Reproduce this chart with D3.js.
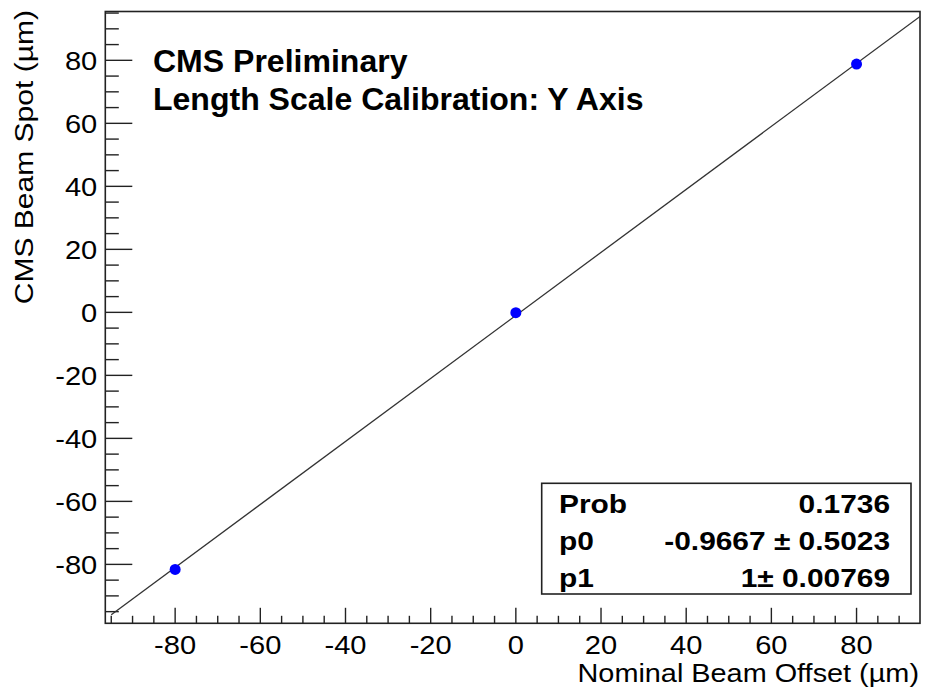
<!DOCTYPE html>
<html>
<head>
<meta charset="utf-8">
<script src="https://cdn.jsdelivr.net/npm/d3@7"></script>
<style>
  html, body { margin: 0; padding: 0; background: #fff; }
  svg { display: block; }
  text { font-family: "Liberation Sans", Arial, Helvetica, sans-serif; fill: #000; }
</style>
</head>
<body>
<svg id="chart" width="925" height="692"></svg>
<script>
// Calibration points: nominal offset vs. measured beam spot position (µm)
const nominalOffset = [-80, 0, 80];
const beamSpot = [-81.6, -0.1, 78.8];

// Axis ticks
const xTicks = [-80, -60, -40, -20, 0, 20, 40, 60, 80];
const yTicks = [-80, -60, -40, -20, 0, 20, 40, 60, 80];
const xTickLabels = ["-80", "-60", "-40", "-20", "0", "20", "40", "60", "80"];
const yTickLabels = ["-80", "-60", "-40", "-20", "0", "20", "40", "60", "80"];

// Linear fit result p0 + p1*x and its drawn range
const fitParams = [-0.9667, 1];
const fitRange = [-95, 95];

// Fit statistics panel
const statNames = ["Prob", "p0", "p1"];
const statValues = ["0.1736", "-0.9667 \u00b1 0.5023", "1\u00b1 0.00769"];

const headerLines = ["CMS Preliminary", "Length Scale Calibration: Y Axis"];
const xTitle = "Nominal Beam Offset (\u00b5m)";
const yTitle = "CMS Beam Spot (\u00b5m)";

const svg = d3.select("#chart");
const frame = { left: 105.3, right: 920, top: 11.5, bottom: 623.3 };

const x = d3.scaleLinear().domain([-96.4, 94.9]).range([frame.left, frame.right]);
const y = d3.scaleLinear().domain([-98.7, 95.5]).range([frame.bottom, frame.top]);

const axisColor = "#222";

// Text is drawn with slightly widened glyphs (Helvetica-style wide rendering)
function place(sel, px, py, sx, rot) {
  sel.attr("x", 0).attr("y", 0)
    .attr("transform", (d, i) => {
      const tx = typeof px === "function" ? px(d, i) : px;
      const ty = typeof py === "function" ? py(d, i) : py;
      return `translate(${tx},${ty})` + (rot ? ` rotate(${rot})` : "") + ` scale(${sx},1)`;
    });
  return sel;
}

// Minor ticks every 5 units
const xMinor = d3.range(-95, 95, 5).filter(v => v % 20 !== 0);
const yMinor = d3.range(-95, 96, 5).filter(v => v % 20 !== 0);

// Bottom axis (ticks point inward)
const gx = svg.append("g").attr("transform", `translate(0,${frame.bottom})`);
gx.selectAll("line.major").data(xTicks).join("line")
  .attr("x1", d => x(d)).attr("x2", d => x(d))
  .attr("y1", 0).attr("y2", -15.5)
  .attr("stroke", axisColor).attr("stroke-width", 1.4);
gx.selectAll("line.minor").data(xMinor).join("line")
  .attr("x1", d => x(d)).attr("x2", d => x(d))
  .attr("y1", 0).attr("y2", -7.5)
  .attr("stroke", axisColor).attr("stroke-width", 1.4);
place(gx.selectAll("text").data(xTicks).join("text")
  .attr("text-anchor", "middle")
  .attr("font-size", 26)
  .text((d, i) => xTickLabels[i]), d => x(d), 31, 1.12);

// Left axis (ticks point inward)
const gy = svg.append("g").attr("transform", `translate(${frame.left},0)`);
gy.selectAll("line.major").data(yTicks).join("line")
  .attr("y1", d => y(d)).attr("y2", d => y(d))
  .attr("x1", 0).attr("x2", 27)
  .attr("stroke", axisColor).attr("stroke-width", 1.4);
gy.selectAll("line.minor").data(yMinor).join("line")
  .attr("y1", d => y(d)).attr("y2", d => y(d))
  .attr("x1", 0).attr("x2", 13.5)
  .attr("stroke", axisColor).attr("stroke-width", 1.4);
place(gy.selectAll("text").data(yTicks).join("text")
  .attr("text-anchor", "end")
  .attr("font-size", 26)
  .text((d, i) => yTickLabels[i]), -8, d => y(d) + 10, 1.12);

// Plot frame
svg.append("rect")
  .attr("x", frame.left).attr("y", frame.top)
  .attr("width", frame.right - frame.left).attr("height", frame.bottom - frame.top)
  .attr("fill", "none").attr("stroke", axisColor).attr("stroke-width", 1.6);

// Fitted line
svg.append("clipPath").attr("id", "plotclip").append("rect")
  .attr("x", frame.left).attr("y", frame.top)
  .attr("width", frame.right - frame.left).attr("height", frame.bottom - frame.top);
const fitLine = d3.line().x(d => x(d)).y(d => y(fitParams[0] + fitParams[1] * d));
svg.append("path")
  .attr("clip-path", "url(#plotclip)")
  .attr("d", fitLine(fitRange))
  .attr("fill", "none").attr("stroke", "#333").attr("stroke-width", 1.3);

// Data points
svg.selectAll("circle.pt").data(nominalOffset).join("circle")
  .attr("class", "pt")
  .attr("cx", d => x(d))
  .attr("cy", (d, i) => y(beamSpot[i]))
  .attr("r", 5.5)
  .attr("fill", "#0000ff");

// Header text
place(svg.selectAll("text.header").data(headerLines).join("text")
  .attr("class", "header")
  .attr("font-size", 30.5).attr("font-weight", "bold")
  .text(d => d), 153, (d, i) => 71.5 + i * 38.5, 1.05);

// Fit statistics box
const box = { x0: 541.7, x1: 911, y0: 483.3, y1: 594 };
svg.append("rect")
  .attr("x", box.x0).attr("y", box.y0)
  .attr("width", box.x1 - box.x0).attr("height", box.y1 - box.y0)
  .attr("fill", "#fff").attr("stroke", axisColor).attr("stroke-width", 1.6);
place(svg.selectAll("text.statname").data(statNames).join("text")
  .attr("class", "statname")
  .attr("font-size", 26).attr("font-weight", "bold")
  .text(d => d), 559, (d, i) => 513.3 + i * 36.7, 1.15);
place(svg.selectAll("text.statval").data(statValues).join("text")
  .attr("class", "statval")
  .attr("text-anchor", "end")
  .attr("font-size", 26).attr("font-weight", "bold")
  .text(d => d), 890, (d, i) => 513.3 + i * 36.7, 1.15);

// Axis titles
place(svg.append("text")
  .attr("text-anchor", "end")
  .attr("font-size", 26)
  .text(xTitle), 919, 682, 1.11);
place(svg.append("text")
  .attr("text-anchor", "end")
  .attr("font-size", 26)
  .text(yTitle), 33, 10, 1.155, -90);
</script>
</body>
</html>
